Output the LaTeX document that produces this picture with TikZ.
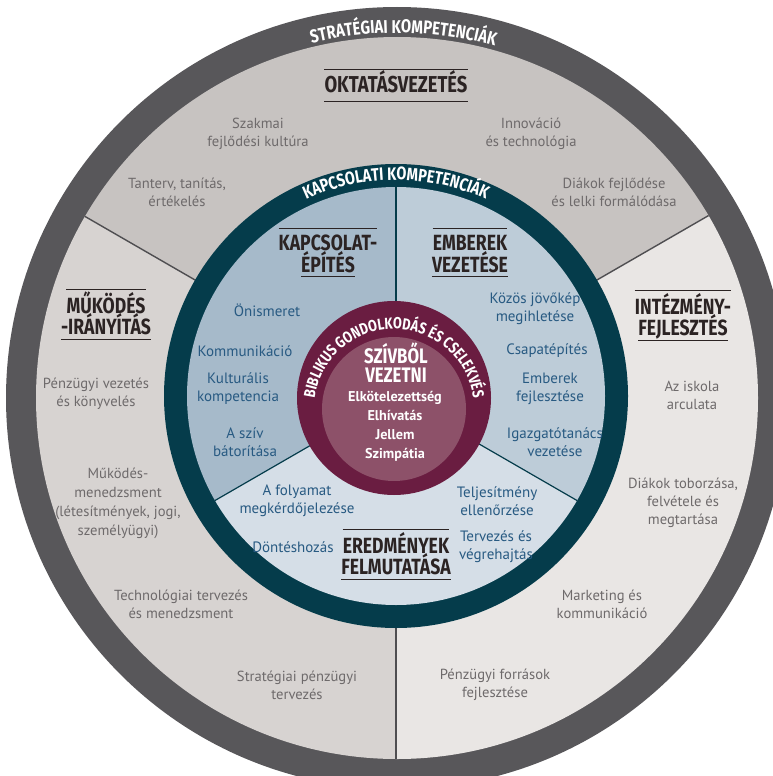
\documentclass[tikz,border=0pt]{standalone}
\usepackage{fontspec}
\setmainfont{PT Sans}
\newfontfamily\headfont[FakeStretch=0.8]{Fira Sans}
\newfontfamily\arcfont[FakeStretch=0.8]{Fira Sans}
\usetikzlibrary{calc,decorations.text}
\definecolor{ringgray}{HTML}{58575A}
\definecolor{secTop}{HTML}{C7C3C1}
\definecolor{secLeft}{HTML}{D7D3D1}
\definecolor{secRight}{HTML}{E9E6E4}
\definecolor{divgray}{HTML}{4F4E51}
\definecolor{tealring}{HTML}{053C4B}
\definecolor{inLeft}{HTML}{A6BACA}
\definecolor{inRight}{HTML}{BDCCD8}
\definecolor{inBottom}{HTML}{D5DEE7}
\definecolor{maroon}{HTML}{6A1D41}
\definecolor{maroonlt}{HTML}{8D5169}
\definecolor{outtext}{HTML}{6E6A6B}
\definecolor{intext}{HTML}{285A82}
\definecolor{titletext}{HTML}{2B2323}
\tikzset{
  outer/.style={text=outtext, align=center, font=\fontsize{14.6}{18}\selectfont, inner sep=0pt},
  inner/.style={text=intext, align=center, font=\fontsize{15}{18}\selectfont, inner sep=0pt},
  core/.style={text=white, align=center, font=\bfseries\fontsize{14.2}{19}\selectfont, inner sep=0pt},
  title/.style={text=titletext, font=\headfont\bfseries\fontsize{22}{22}\selectfont, inner sep=0pt, text height=15pt, text depth=0pt},
  coretitle/.style={text=white, font=\headfont\bfseries\fontsize{22}{22}\selectfont, inner sep=0pt, text height=15pt, text depth=0pt},
  rule/.style={draw=titletext, line width=0.9pt},
  divline/.style={draw=divgray, line width=1.4pt},
  indiv/.style={draw=tealring, line width=1.2pt},
}
\begin{document}
\begin{tikzpicture}[x=1pt,y=1pt]
\useasboundingbox (0,0) rectangle (773,-776);
\fill[white] (0,0) rectangle (773,-776);
\coordinate (O) at (397,-398);
\coordinate (C) at (396,-396);
\coordinate (M) at (394,-398);
\coordinate (N) at (394,-409);

% outer ring and sectors
\fill[ringgray] (O) circle (391);
\begin{scope}
  \clip (O) circle (361);
  \fill[secTop] (C) -- ++(30:600) arc[start angle=30,end angle=150,radius=600] -- cycle;
  \fill[secLeft] (C) -- ++(150:600) arc[start angle=150,end angle=270,radius=600] -- cycle;
  \fill[secRight] (C) -- ++(270:600) arc[start angle=270,end angle=390,radius=600] -- cycle;
  \draw[divline] ($(C)+(30:220)$) -- ($(C)+(30:600)$);
  \draw[divline] ($(C)+(150:220)$) -- ($(C)+(150:600)$);
  \draw[divline] ($(C)+(270:220)$) -- ($(C)+(270:600)$);
\end{scope}

% teal ring and inner sectors
\fill[tealring] (C) circle (232);
\begin{scope}
  \clip (C) circle (209);
  \fill[inRight] (C) -- ++(-30:300) arc[start angle=-30,end angle=90,radius=300] -- cycle;
  \fill[inLeft] (C) -- ++(90:300) arc[start angle=90,end angle=210,radius=300] -- cycle;
  \fill[inBottom] (C) -- ++(210:300) arc[start angle=210,end angle=330,radius=300] -- cycle;
  \draw[indiv] (C) -- ++(90:300);
  \draw[indiv] (C) -- ++(210:300);
  \draw[indiv] (C) -- ++(330:300);
\end{scope}

% core
\fill[maroon] (M) circle (97);
\fill[maroonlt] (N) circle (72);

% arc texts
\path[decorate, decoration={text along path, text align=center, text color=white,
  text={|\arcfont\bfseries\fontsize{18.5}{18.5}\selectfont|STRATÉGIAI KOMPETENCIÁK}}]
  ($(O)+(125:365)$) arc[start angle=125,end angle=53,radius=365];
\path[decorate, decoration={text along path, text align=center, text color=white,
  text={|\arcfont\bfseries\fontsize{18}{18}\selectfont|KAPCSOLATI KOMPETENCIÁK}}]
  ($(C)+(145:216)$) arc[start angle=145,end angle=35,radius=216];
\path[decorate, decoration={text along path, text align=center, text color=white,
  text={|\arcfont\bfseries\fontsize{16}{16}\selectfont|BIBLIKUS GONDOLKODÁS ÉS CSELEKVÉS}}]
  ($(N)+(195:80)$) arc[start angle=195,end angle=-15,radius=80];

% titles
\node[title, font=\headfont\bfseries\fontsize{23}{23}\selectfont] (okt) at (396,-85) {OKTATÁSVEZETÉS};
\draw[rule] ([yshift=8pt]okt.north west) -- ([yshift=8pt]okt.north east);
\draw[rule] ([yshift=-9pt]okt.south west) -- ([yshift=-9pt]okt.south east);

\node[title] (kap1) at (328,-243) {KAPCSOLAT-};
\node[title] (kap2) at (328,-265) {ÉPÍTÉS};
\draw[rule] ([yshift=7pt]kap1.north west) -- ([yshift=7pt]kap1.north east);
\draw[rule] ([yshift=-4pt]kap2.south west) -- ([yshift=-4pt]kap2.south east);

\node[title] (emb1) at (470,-243) {EMBEREK};
\node[title] (emb2) at (470,-265) {VEZETÉSE};
\draw[rule] ([yshift=7pt]emb1.north west) -- ([yshift=7pt]emb1.north east);
\draw[rule] ([yshift=-4pt]emb2.south west) -- ([yshift=-4pt]emb2.south east);

\node[title] (muk1) at (106,-306) {MŰKÖDÉS};
\node[title] (muk2) at (106,-327) {-IRÁNYÍTÁS};
\draw[rule] ([yshift=9pt]muk1.north west) -- ([yshift=9pt]muk1.north east);
\draw[rule] ([yshift=-5pt]muk2.south west) -- ([yshift=-5pt]muk2.south east);

\node[title] (int1) at (683,-307) {INTÉZMÉNY-};
\node[title] (int2) at (683,-328) {FEJLESZTÉS};
\draw[rule] ([yshift=9pt]int1.north west) -- ([yshift=9pt]int1.north east);
\draw[rule] ([yshift=-5pt]int2.south west) -- ([yshift=-5pt]int2.south east);

\node[title] (ere1) at (396,-546) {EREDMÉNYEK};
\node[title] (ere2) at (396,-567) {FELMUTATÁSA};
\draw[rule] ([yshift=9pt]ere1.north west) -- ([yshift=9pt]ere1.north east);
\draw[rule] ([yshift=-5pt]ere2.south west) -- ([yshift=-5pt]ere2.south east);

\node[coretitle, font=\headfont\bfseries\fontsize{21}{21}\selectfont] (sz1) at (396,-356) {SZÍVBŐL};
\node[coretitle, font=\headfont\bfseries\fontsize{21}{21}\selectfont] (sz2) at (396,-375) {VEZETNI};
\node[core] (vals) at (395,-426) {Elkötelezettség\\Elhívatás\\Jellem\\Szimpátia};

% outer items
\node[outer] (szak) at (258,-134) {Szakmai\\fejlődési kultúra};
\node[outer] (inno) at (531,-134) {Innováció\\és technológia};
\node[outer] (tant) at (177,-192) {Tanterv, tanítás,\\értékelés};
\node[outer] (diak) at (614,-192) {Diákok fejlődése\\és lelki formálódása};
\node[outer] (penz) at (96,-394) {Pénzügyi vezetés\\és könyvelés};
\node[outer, font=\fontsize{14.6}{19}\selectfont] (mukm) at (118,-503) {Működés-\\menedzsment\\(létesítmények, jogi,\\személyügyi)};
\node[outer] (tech) at (181,-604) {Technológiai tervezés\\és menedzsment};
\node[outer] (strp) at (297,-685) {Stratégiai pénzügyi\\tervezés};
\node[outer] (isk) at (692,-395) {Az iskola\\arculata};
\node[outer] (tob) at (683,-503) {Diákok toborzása,\\felvétele és\\megtartása};
\node[outer] (mark) at (602,-604) {Marketing és\\kommunikáció};
\node[outer] (forr) at (495,-685) {Pénzügyi források\\fejlesztése};

% inner items
\node[inner] (onis) at (267,-310) {Önismeret};
\node[inner] (komm) at (245,-351) {Kommunikáció};
\node[inner] (kult) at (238,-389) {Kulturális\\kompetencia};
\node[inner] (sziv) at (245,-442) {A szív\\bátorítása};
\node[inner] (jovo) at (535,-309) {Közös jövőkép\\megihletése};
\node[inner] (csap) at (547,-351) {Csapatépítés};
\node[inner] (embf) at (550,-389) {Emberek\\fejlesztése};
\node[inner] (igaz) at (555,-442) {Igazgatótanács\\vezetése};
\node[inner] (foly) at (297,-501) {A folyamat\\megkérdőjelezése};
\node[inner] (telj) at (497,-501) {Teljesítmény\\ellenőrzése};
\node[inner] (dont) at (293,-547) {Döntéshozás};
\node[inner] (terv) at (496,-547) {Tervezés és\\végrehajtás};
\end{tikzpicture}
\end{document}
